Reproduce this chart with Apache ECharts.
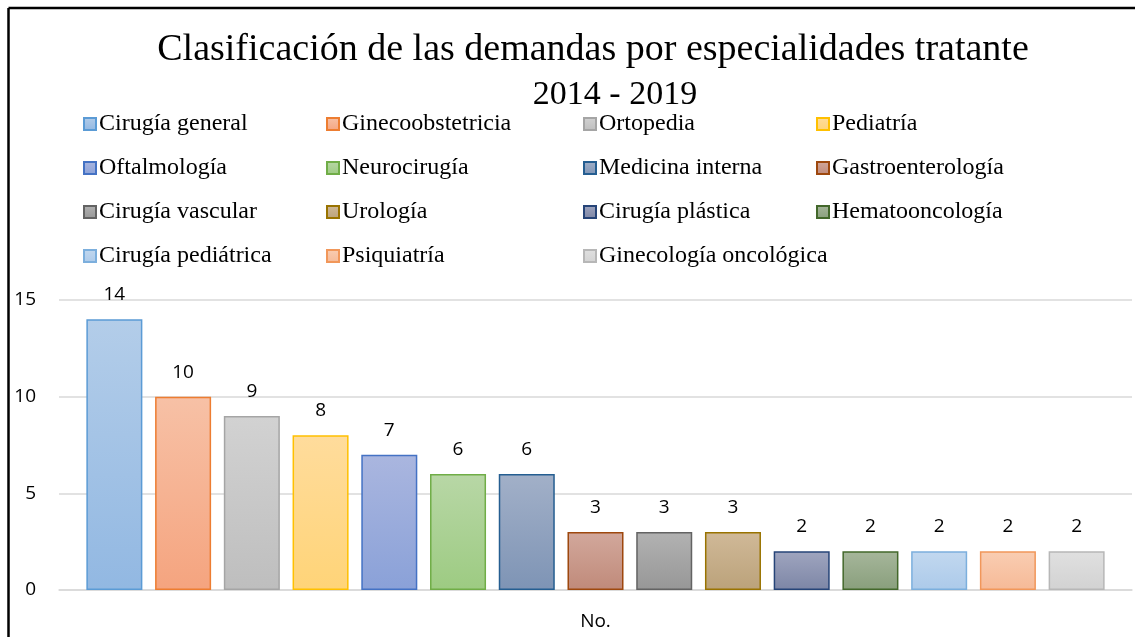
<!DOCTYPE html>
<html>
<head>
<meta charset="utf-8">
<script src="https://cdn.jsdelivr.net/npm/echarts@6/dist/echarts.min.js"></script>
<style>
  html, body { margin: 0; padding: 0; background: #fff; }
  #chart { width: 1135px; height: 637px; }
</style>
</head>
<body>
<div id="chart"></div>
<script>
var categories = ['No.'];
var names = [
    'Cirugía general', 'Ginecoobstetricia', 'Ortopedia', 'Pediatría',
    'Oftalmología', 'Neurocirugía', 'Medicina interna', 'Gastroenterología',
    'Cirugía vascular', 'Urología', 'Cirugía plástica', 'Hematooncología',
    'Cirugía pediátrica', 'Psiquiatría', 'Ginecología oncológica'
];
var values = [14, 10, 9, 8, 7, 6, 6, 3, 3, 3, 2, 2, 2, 2, 2];
var yTicks = [0, 5, 10, 15];

// border, gradient top, gradient bottom
var colors = [
    ['#5B9BD5', '#B3CDE9', '#92B8E2'],
    ['#ED7D31', '#F7C1A6', '#F5A47F'],
    ['#A5A5A5', '#D2D2D2', '#BEBEBE'],
    ['#FFC000', '#FFDC9C', '#FFD478'],
    ['#4472C4', '#AAB6DF', '#8AA1D8'],
    ['#70AD47', '#B8D7A6', '#9DCB82'],
    ['#255E91', '#A2B0C8', '#7E94B5'],
    ['#9E480E', '#D2A89C', '#C08A7A'],
    ['#636363', '#B2B2B2', '#979797'],
    ['#997300', '#D0B998', '#BBA27A'],
    ['#264478', '#9FA5BF', '#7D86A6'],
    ['#43682B', '#A6B69B', '#899F7C'],
    ['#7CAFDD', '#C2D8EF', '#ACCAEA'],
    ['#F1975A', '#F9CDB2', '#F6BA97'],
    ['#B7B7B7', '#E0E0E0', '#D2D2D2']
];

var series = names.map(function (name, i) {
    return {
        name: name,
        type: 'bar',
        data: [values[i]],
        barGap: '22.7%',
        barCategoryGap: '5.1%',
        itemStyle: {
            color: new echarts.graphic.LinearGradient(0, 0, 0, 1, [
                { offset: 0, color: colors[i][1] },
                { offset: 1, color: colors[i][2] }
            ]),
            borderColor: colors[i][0],
            borderWidth: 1.5
        },
        label: {
            show: true,
            position: 'top',
            distance: 15,
            color: '#000',
            fontSize: 19,
            fontFamily: 'Open Sans'
        }
    };
});

// legend laid out in 4 columns like the original
var colLeft = [83, 326, 583, 816];
var legends = colLeft.map(function (x, c) {
    return {
        orient: 'vertical',
        left: x,
        top: 111,
        itemWidth: 12,
        itemHeight: 12,
        itemGap: 18,
        icon: 'rect',
        padding: 0,
        textStyle: {
            fontFamily: 'Liberation Serif',
            fontSize: 24,
            lineHeight: 26,
            color: '#000',
            padding: [0, 0, 0, -2]
        },
        data: names.filter(function (n, i) { return i % 4 === c; })
    };
});

var myChart = echarts.init(document.getElementById('chart'));

var option = {
    animation: false,
    title: {
        text: '{a|Clasificación de las demandas por especialidades tratante}\n{b|2014 - 2019}',
        left: 588,
        textAlign: 'center',
        top: 22,
        textStyle: {
            fontFamily: 'Liberation Serif',
            fontSize: 38,
            fontWeight: 'normal',
            color: '#000',
            rich: {
                a: {
                    fontFamily: 'Liberation Serif',
                    fontSize: 38,
                    lineHeight: 46,
                    color: '#000'
                },
                b: {
                    fontFamily: 'Liberation Serif',
                    fontSize: 34,
                    lineHeight: 44,
                    color: '#000',
                    padding: [0, 0, 0, 44]
                }
            }
        }
    },
    legend: legends,
    grid: {
        left: 59,
        right: 3,
        top: 300,
        bottom: 47,
        containLabel: false
    },
    xAxis: {
        type: 'category',
        data: categories,
        axisLine: { lineStyle: { color: '#D9D9D9', width: 1.5 } },
        axisTick: { show: false },
        axisLabel: {
            margin: 22,
            color: '#000',
            fontSize: 19,
            fontFamily: 'Open Sans'
        }
    },
    yAxis: {
        type: 'value',
        min: yTicks[0],
        max: yTicks[yTicks.length - 1],
        interval: yTicks[1] - yTicks[0],
        axisLine: { show: false },
        axisTick: { show: false },
        splitLine: { lineStyle: { color: '#D9D9D9', width: 1.5 } },
        axisLabel: {
            margin: 23,
            color: '#000',
            fontSize: 19,
            fontFamily: 'Open Sans'
        }
    },
    graphic: [
        { type: 'line', shape: { x1: 8.5, y1: 8, x2: 1135, y2: 8 }, style: { stroke: '#000', lineWidth: 2.5 } },
        { type: 'line', shape: { x1: 8.5, y1: 8, x2: 8.5, y2: 637 }, style: { stroke: '#000', lineWidth: 2.5 } }
    ],
    series: series
};

myChart.setOption(option);
</script>
</body>
</html>
